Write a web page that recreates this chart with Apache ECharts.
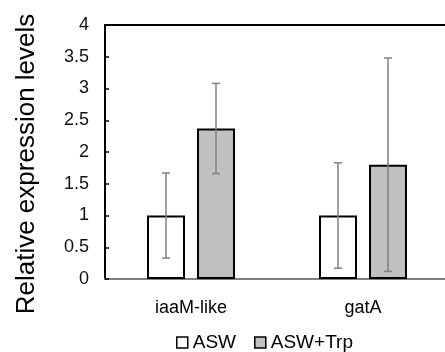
<!DOCTYPE html>
<html>
<head>
<meta charset="utf-8">
<script src="https://cdn.jsdelivr.net/npm/echarts@6/dist/echarts.min.js"></script>
<style>html,body{margin:0;padding:0;background:#fff}#c{width:445px;height:352px}</style>
</head>
<body>
<div id="c"></div>
<script>
var categories = ['iaaM-like', 'gatA'];
var seriesNames = ['ASW', 'ASW+Trp'];
var aswValues = [1.0, 1.0];
var aswErrors = [0.67, 0.83];
var trpValues = [2.37, 1.80];
var trpErrors = [0.71, 1.68];
var yTicks = [0, 0.5, 1, 1.5, 2, 2.5, 3, 3.5, 4];

var BAR_W = 38, BAR_GAP = 12;
var FONT = 'Liberation Sans, Arial, sans-serif';

function errSeries(values, errors, side) {
  var data = values.map(function (v, i) { return [i, v, errors[i]]; });
  return {
    type: 'custom',
    z: 10,
    silent: true,
    data: data,
    renderItem: function (params, api) {
      var i = api.value(0), v = api.value(1), e = api.value(2);
      var off = side * (BAR_W + BAR_GAP) / 2;
      var hi = api.coord([i, v + e]);
      var lo = api.coord([i, v - e]);
      var x = hi[0] + off;
      var cap = 4;
      var st = { stroke: '#808080', lineWidth: 1.5 };
      return {
        type: 'group',
        children: [
          { type: 'line', shape: { x1: x, y1: hi[1], x2: x, y2: lo[1] }, style: st },
          { type: 'line', shape: { x1: x - cap, y1: hi[1], x2: x + cap, y2: hi[1] }, style: st },
          { type: 'line', shape: { x1: x - cap, y1: lo[1], x2: x + cap, y2: lo[1] }, style: st }
        ]
      };
    }
  };
}

var chart = echarts.init(document.getElementById('c'), null, { renderer: 'canvas' });
chart.setOption({
  animation: false,
  textStyle: { fontFamily: FONT },
  grid: { left: 105, top: 25, width: 344, bottom: 73, containLabel: false, outerBoundsMode: 'none' },
  legend: {
    data: seriesNames,
    bottom: -5,
    left: 171,
    icon: 'rect',
    itemWidth: 11,
    itemHeight: 11,
    itemGap: 18,
    textStyle: { fontFamily: FONT, fontSize: 19, color: '#000' },
    itemStyle: { borderColor: '#000', borderWidth: 1.5 }
  },
  xAxis: [{
    type: 'category',
    data: categories,
    axisLine: { lineStyle: { color: '#808080', width: 2 } },
    axisTick: { show: false },
    axisLabel: { fontFamily: FONT, fontSize: 18, color: '#000', margin: 20 }
  }, {
    type: 'category',
    position: 'top',
    data: categories,
    axisLine: { show: true, onZero: false, lineStyle: { color: '#000', width: 2 } },
    axisTick: { show: false },
    axisLabel: { show: false }
  }],
  yAxis: {
    type: 'value',
    min: yTicks[0],
    max: yTicks[yTicks.length - 1],
    interval: 0.5,
    name: 'Relative expression levels',
    nameLocation: 'middle',
    nameGap: 65,
    nameTextStyle: { fontFamily: FONT, fontSize: 26, color: '#000', padding: [0, 24, 0, 0] },
    axisLine: { show: true, lineStyle: { color: '#000', width: 2 } },
    axisTick: { show: true, inside: true, length: 4, lineStyle: { color: '#000', width: 1.5 } },
    splitLine: { show: false },
    axisLabel: { fontFamily: FONT, fontSize: 18, color: '#111', margin: 16 }
  },
  series: [{
    name: seriesNames[0],
    type: 'bar',
    data: aswValues,
    barWidth: BAR_W,
    barGap: (BAR_GAP / BAR_W * 100) + '%',
    itemStyle: { color: '#ffffff', borderColor: '#000', borderWidth: 2 }
  }, {
    name: seriesNames[1],
    type: 'bar',
    data: trpValues,
    barWidth: BAR_W,
    itemStyle: { color: '#c0c0c0', borderColor: '#000', borderWidth: 2 }
  },
  errSeries(aswValues, aswErrors, -1),
  errSeries(trpValues, trpErrors, 1)
  ]
});
</script>
</body>
</html>
